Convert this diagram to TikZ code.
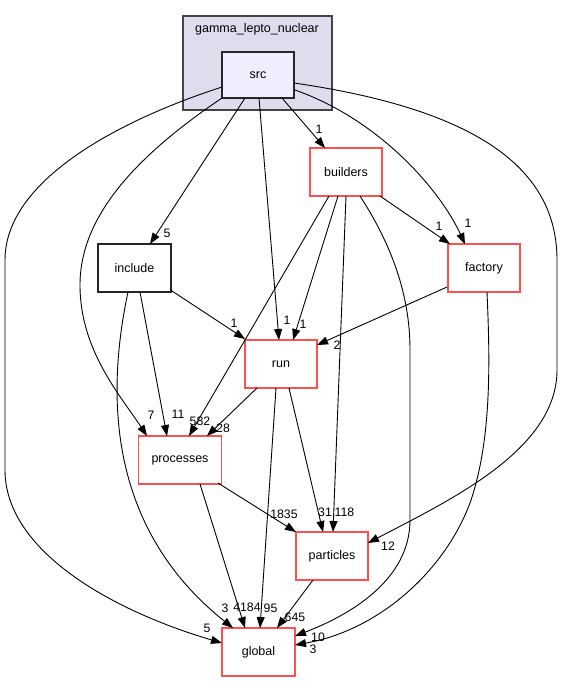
\documentclass[tikz,border=0pt]{standalone}
\usepackage{fontspec}
\setmainfont{Liberation Sans}
\usetikzlibrary{arrows.meta,calc}
\definecolor{nodered}{RGB}{255,80,80}
\definecolor{clusterfill}{RGB}{221,221,238}
\definecolor{clusterdraw}{RGB}{68,68,68}
\definecolor{srcfill}{RGB}{238,238,255}
\tikzset{
  dirbox/.style={draw=nodered, line width=1.1pt, fill=white, minimum width=72pt, minimum height=48pt, inner sep=0pt, font=\fontsize{12.5}{14}\selectfont},
  plainbox/.style={dirbox, draw=black!85},
  srcbox/.style={dirbox, draw=black!85, fill=srcfill, minimum height=46pt},
  elabel/.style={inner sep=0pt, font=\fontsize{12.3}{14}\selectfont},
  edge/.style={line width=0.9pt, -{Triangle[length=11pt,width=8pt]}},
}
\begin{document}
\begin{tikzpicture}[x=1pt,y=-1pt]
\useasboundingbox (0,0) rectangle (563,681);
\fill[white] (0,0) rectangle (563,681);
% cluster
\draw[clusterdraw, fill=clusterfill, line width=1.1pt] (183,16) rectangle (332,110);
\node[elabel, font=\fontsize{12.5}{14}\selectfont] (clabel) at (257,29) {gamma\_lepto\_nuclear};
% nodes
\node[srcbox] (src) at (258,75) {src};
\node[dirbox] (builders) at (346,172) {builders};
\node[dirbox] (factory) at (484,268) {factory};
\node[plainbox, minimum width=73pt] (include) at (134.5,268) {include};
\node[dirbox] (run) at (281,364) {run};
\node[dirbox, minimum width=83pt] (processes) at (180,460) {processes};
\node[dirbox] (particles) at (332,556) {particles};
\node[dirbox, minimum width=73pt] (global) at (258.5,652) {global};
% edges
\draw[edge] ($(src)+(-13,23)$) -- ($(include)+(15.5,-24)$);
\node[elabel] (l1) at (167,233) {5};
\draw[edge] ($(src)+(24,23)$) -- ($(builders)+(-21,-24)$);
\node[elabel] (l2) at (319,129) {1};
\draw[edge] ($(src)+(1,23)$) -- ($(run)+(-2,-24)$);
\node[elabel] (l3) at (287,320) {1};
\draw[edge] ($(src)+(37,15)$) .. controls (380,120) and (440,190) .. ($(factory)+(-19,-24)$);
\node[elabel] (l4) at (468,223) {1};
\draw[edge] ($(src)+(-36,23)$) .. controls (130,160) and (80,220) .. (80,285) .. controls (80,350) and (120,395) .. ($(processes)+(-33,-24)$);
\node[elabel] (l5) at (151,415) {7};
\draw[edge] ($(src)+(-36,12)$) .. controls (120,120) and (5,180) .. (5,260) -- (5,470) .. controls (5,550) and (110,610) .. ($(global)+(-36.5,-9)$);
\node[elabel] (l6) at (207,628) {5};
\draw[edge] ($(src)+(36,8)$) .. controls (480,110) and (557,170) .. (557,260) -- (557,370) .. controls (557,450) and (450,500) .. ($(particles)+(36,-13)$);
\node[elabel] (l7) at (388,546) {12};
\draw[edge] ($(builders)+(34,24)$) -- ($(factory)+(-34,-24)$);
\node[elabel] (l8) at (439,226) {1};
\draw[edge] ($(builders)+(-8,24)$) -- ($(run)+(12,-24)$);
\node[elabel] (l9) at (303,324) {1};
\draw[edge] ($(builders)+(-17,24)$) -- ($(processes)+(9,-24)$);
\node[elabel] (l10) at (200,421) {582};
\draw[edge] ($(builders)+(0,24)$) -- ($(particles)+(1,-24)$);
\node[elabel] (l11) at (344.5,512) {118};
\draw[edge] ($(builders)+(14,24)$) .. controls (395,250) and (410,300) .. (410,350) -- (410,520) .. controls (410,580) and (350,615) .. ($(global)+(36.5,-16)$);
\node[elabel] (l12) at (318,637) {10};
\draw[edge] ($(factory)+(-37,19)$) -- ($(run)+(36,-19)$);
\node[elabel] (l13) at (337,345) {2};
\draw[edge] ($(factory)+(3,24)$) .. controls (490,360) and (492,440) .. (470,503) .. controls (445,570) and (380,630) .. ($(global)+(36.5,-7)$);
\node[elabel] (l14) at (313,649) {3};
\draw[edge] ($(include)+(36,22)$) -- ($(run)+(-36,-25)$);
\node[elabel] (l15) at (234,323) {1};
\draw[edge] ($(include)+(5.5,24)$) -- ($(processes)+(-13,-24)$);
\node[elabel] (l16) at (178,414) {11};
\draw[edge] ($(include)+(-6.5,24)$) .. controls (105,400) and (110,530) .. ($(global)+(-25.5,-24)$);
\node[elabel] (l17) at (225,608) {3};
\draw[edge] ($(run)+(-24,24)$) -- ($(processes)+(27,-24)$);
\node[elabel] (l18) at (223,428) {28};
\draw[edge] ($(run)+(8,24)$) -- ($(particles)+(-9,-24)$);
\node[elabel] (l19) at (325,512) {31};
\draw[edge] ($(run)+(-5,24)$) -- ($(global)+(1.5,-24)$);
\node[elabel] (l20) at (270.5,608) {95};
\draw[edge] ($(processes)+(20,24)$) -- ($(global)+(-13.5,-24)$);
\node[elabel] (l21) at (247,607) {4184};
\draw[edge] ($(processes)+(38,23)$) -- ($(particles)+(-36,-24)$);
\node[elabel] (l22) at (284,514) {1835};
\draw[edge] ($(particles)+(-19,24)$) -- ($(global)+(18.5,-24)$);
\node[elabel] (l23) at (295,617) {645};
\end{tikzpicture}
\end{document}
